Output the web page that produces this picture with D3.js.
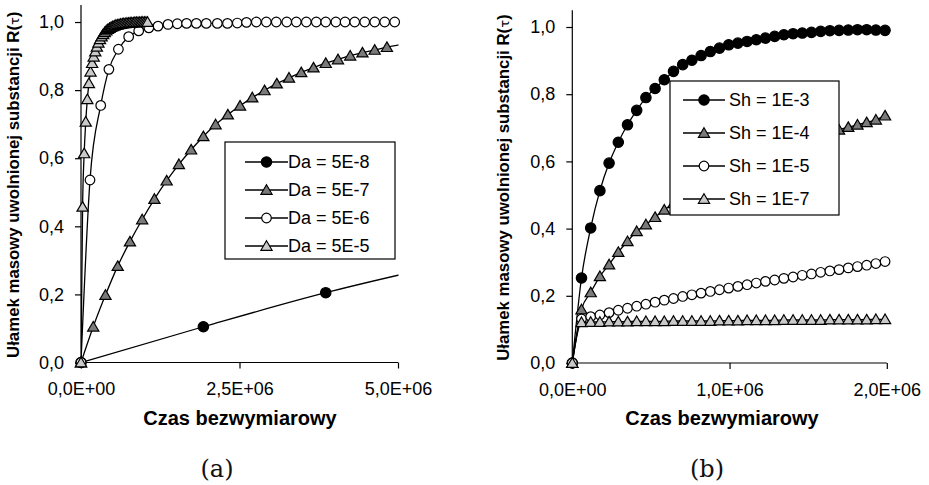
<!DOCTYPE html>
<html>
<head>
<meta charset="utf-8">
<script src="https://cdn.jsdelivr.net/npm/d3@7"></script>
<style>
  html, body { margin: 0; padding: 0; background: #fff; }
  svg { display: block; }
</style>
</head>
<body>
<svg id="fig" width="929" height="485"></svg>
<script>
// ---------- shared axis data ----------
const yTickValues = [0, 0.2, 0.4, 0.6, 0.8, 1.0];
const yTickLabels = ["0,0", "0,2", "0,4", "0,6", "0,8", "1,0"];
const yTitle = "Ułamek masowy uwolnionej substancji R(";
const xTitle = "Czas bezwymiarowy";

// ---------- panel (a): Damköhler number ----------
const xTickValuesA = [0, 2.5e6, 5e6];
const xTickLabelsA = ["0,0E+00", "2,5E+06", "5,0E+06"];
const legendA = ["Da = 5E-8", "Da = 5E-7", "Da = 5E-6", "Da = 5E-5"];

// time values in millions
const timeDa8 = [0, 1.93, 3.86, 5.79];
const fracDa8 = [0, 0.105, 0.205, 0.29];

const timeDa7 = [0, 0.193, 0.386, 0.579, 0.772, 0.965, 1.158, 1.351, 1.544, 1.737,
  1.930, 2.123, 2.316, 2.509, 2.702, 2.895, 3.088, 3.281, 3.474, 3.667, 3.860,
  4.053, 4.246, 4.439, 4.632, 4.825, 5.018];
const fracDa7 = [0, 0.105, 0.198, 0.283, 0.355, 0.420, 0.480, 0.534, 0.582, 0.625,
  0.664, 0.699, 0.728, 0.754, 0.778, 0.799, 0.819, 0.836, 0.852, 0.866, 0.879,
  0.890, 0.901, 0.910, 0.918, 0.926, 0.933];

const timeDa6 = [0, 0.142, 0.311, 0.440, 0.590, 0.752, 0.910, 1.070, 1.215, 1.372,
  1.519, 1.665, 1.819, 1.976, 2.150, 2.310, 2.465, 2.610, 2.765, 2.923, 3.080,
  3.245, 3.396, 3.554, 3.711, 3.860, 4.020, 4.165, 4.317, 4.475, 4.633, 4.790, 4.948];
const fracDa6 = [0, 0.536, 0.755, 0.861, 0.920, 0.957, 0.974, 0.983, 0.988, 0.993,
  0.995, 0.996, 0.996, 0.996, 0.996, 0.996, 0.997, 0.999, 1.0, 1.0, 1.0,
  1.0, 1.0, 1.0, 1.0, 1.0, 1.0, 1.0, 1.0, 1.0, 1.0, 1.0, 1.0];

const timeDa5 = [0, 0.025, 0.05, 0.075, 0.10, 0.125, 0.15, 0.175, 0.20, 0.225, 0.25,
  0.275, 0.30, 0.325, 0.35, 0.375, 0.40, 0.425, 0.45, 0.475, 0.50, 0.525, 0.55,
  0.575, 0.60, 0.625, 0.65, 0.675, 0.70, 0.725, 0.75, 0.775, 0.80, 0.825, 0.85,
  0.875, 0.90, 0.925, 0.95, 0.975, 1.00, 1.025, 1.05];
const fracDa5 = [0, 0.457, 0.614, 0.707, 0.773, 0.820, 0.854, 0.879, 0.898, 0.913,
  0.927, 0.939, 0.949, 0.957, 0.964, 0.970, 0.975, 0.979, 0.982, 0.985, 0.987,
  0.989, 0.991, 0.992, 0.993, 0.994, 0.995, 0.996, 0.996, 0.997, 0.997, 0.998,
  0.998, 0.998, 0.999, 0.999, 0.999, 0.999, 1.0, 1.0, 1.0, 1.0, 1.0];

// ---------- panel (b): Sherwood number ----------
const xTickValuesB = [0, 1e6, 2e6];
const xTickLabelsB = ["0,0E+00", "1,0E+06", "2,0E+06"];
const legendB = ["Sh = 1E-3", "Sh = 1E-4", "Sh = 1E-5", "Sh = 1E-7"];

const timeSh = [0, 0.0585, 0.117, 0.1755, 0.234, 0.2925, 0.351, 0.4095, 0.468, 0.5265,
  0.585, 0.6435, 0.702, 0.7605, 0.819, 0.8775, 0.936, 0.9945, 1.053, 1.1115, 1.17,
  1.2285, 1.287, 1.3455, 1.404, 1.4625, 1.521, 1.5795, 1.638, 1.6965, 1.755,
  1.8135, 1.872, 1.9305, 1.989];
const fracSh3 = [0, 0.253, 0.402, 0.513, 0.595, 0.657, 0.709, 0.752, 0.790, 0.817,
  0.843, 0.868, 0.888, 0.901, 0.915, 0.927, 0.937, 0.947, 0.952, 0.957, 0.962,
  0.967, 0.972, 0.977, 0.980, 0.982, 0.984, 0.987, 0.989, 0.990, 0.991, 0.992,
  0.992, 0.991, 0.990];
const fracSh4 = [0, 0.159, 0.210, 0.258, 0.293, 0.330, 0.362, 0.392, 0.412, 0.434,
  0.456, 0.475, 0.494, 0.511, 0.527, 0.542, 0.556, 0.570, 0.583, 0.596, 0.608,
  0.620, 0.631, 0.642, 0.652, 0.662, 0.672, 0.680, 0.687, 0.694, 0.702, 0.709,
  0.716, 0.724, 0.736];
const fracSh5 = [0, 0.131, 0.138, 0.143, 0.150, 0.157, 0.163, 0.169, 0.175, 0.181,
  0.187, 0.192, 0.198, 0.203, 0.208, 0.213, 0.218, 0.223, 0.228, 0.233, 0.238,
  0.243, 0.247, 0.252, 0.256, 0.261, 0.265, 0.270, 0.274, 0.278, 0.283, 0.287,
  0.291, 0.296, 0.302];
const fracSh7 = [0, 0.121, 0.122, 0.122, 0.123, 0.123, 0.123, 0.124, 0.124, 0.124,
  0.124, 0.125, 0.125, 0.125, 0.125, 0.125, 0.126, 0.126, 0.126, 0.127, 0.127,
  0.127, 0.127, 0.128, 0.128, 0.128, 0.128, 0.128, 0.129, 0.129, 0.129, 0.129,
  0.129, 0.130, 0.130];

// ---------- marker styles ----------
const SANS = "'Liberation Sans', Arial, sans-serif";
const DARK = "#7a7a7a", LIGHT = "#cacaca";
const styleBlackDot = { shape: "circle", fill: "#000", r: 5.2 };
const styleDarkTri = { shape: "tri", fill: DARK };
const styleWhiteDot = { shape: "circle", fill: "#fff", r: 4.8 };
const styleLightTri = { shape: "tri", fill: LIGHT };

const pts = (t, v) => t.map((ti, i) => ({ x: ti * 1e6, y: v[i] }));

const svg = d3.select("#fig");

function drawMarker(g, st, cx, cy) {
  if (st.shape === "circle") {
    g.append("circle").attr("cx", cx).attr("cy", cy).attr("r", st.r)
      .attr("fill", st.fill).attr("stroke", "#000").attr("stroke-width", 1.2);
  } else {
    g.append("path")
      .attr("d", "M0,-5.3L5.6,4.3L-5.6,4.3Z")
      .attr("transform", `translate(${cx},${cy})`)
      .attr("fill", st.fill).attr("stroke", "#000").attr("stroke-width", 1.2)
      .attr("stroke-linejoin", "miter");
  }
}

function drawPanel(cfg) {
  const x = d3.scaleLinear().domain([0, cfg.xMax]).range(cfg.xRange);
  const y = d3.scaleLinear().domain([0, 1.05]).range(cfg.yRange);
  const g = svg.append("g");

  const clipId = "clip-" + cfg.id;
  svg.append("clipPath").attr("id", clipId).append("rect")
    .attr("x", x(0)).attr("y", y(1.05) - 10)
    .attr("width", x(cfg.xMax) - x(0) + 0.5)
    .attr("height", y(0) - y(1.05) + 20);

  // axes
  const yAxis = d3.axisLeft(y).tickValues(yTickValues)
    .tickFormat((d, i) => yTickLabels[i]).tickSize(6).tickPadding(11);
  const xAxis = d3.axisBottom(x).tickValues(cfg.xTicks)
    .tickFormat((d, i) => cfg.xLabels[i]).tickSize(6).tickPadding(14);

  const gy = g.append("g").attr("transform", `translate(${x(0)},0)`).call(yAxis);
  const gx = g.append("g").attr("transform", `translate(0,${y(0)})`).call(xAxis);
  [gx, gy].forEach(a => {
    a.attr("font-family", SANS).attr("font-size", 18);
    a.select(".domain").remove();
    a.selectAll(".tick line").attr("stroke", "#000").attr("stroke-width", 1.2);
    a.selectAll(".tick text").attr("fill", "#000");
  });
  g.append("line").attr("x1", x(0)).attr("x2", x(0)).attr("y1", y(0)).attr("y2", y(1.05))
    .attr("stroke", "#000").attr("stroke-width", 1.2);
  g.append("line").attr("x1", x(0)).attr("x2", x(cfg.xMax)).attr("y1", y(0)).attr("y2", y(0))
    .attr("stroke", "#000").attr("stroke-width", 1.2);

  // series
  const line = d3.line().x(d => x(d.x)).y(d => y(d.y)).curve(d3.curveMonotoneX);
  cfg.series.forEach(s => {
    g.append("path").datum(s.data).attr("d", line)
      .attr("fill", "none").attr("stroke", "#000").attr("stroke-width", 1.3)
      .attr("clip-path", `url(#${clipId})`);
    const mg = g.append("g");
    s.data.filter(d => d.x <= cfg.xMax).forEach(d => drawMarker(mg, s.style, x(d.x), y(d.y)));
  });

  // legend
  const L = cfg.legend;
  const lg = g.append("g").attr("font-family", SANS);
  lg.append("rect").attr("x", L.x).attr("y", L.y).attr("width", L.w).attr("height", L.h)
    .attr("fill", "#fff").attr("stroke", "#000").attr("stroke-width", 1.2);
  cfg.series.forEach((s, i) => {
    const cy = L.y + L.first + i * L.step;
    lg.append("line").attr("x1", L.x + L.lx0).attr("x2", L.x + L.lx1)
      .attr("y1", cy).attr("y2", cy).attr("stroke", "#000").attr("stroke-width", 1.3);
    drawMarker(lg, s.style, L.x + (L.lx0 + L.lx1) / 2, cy);
    lg.append("text").attr("x", L.x + L.tx).attr("y", cy).attr("dy", "0.36em")
      .attr("font-size", 18).text(s.name);
  });

  // axis titles
  const yt = g.append("text")
    .attr("transform", `translate(${cfg.yTitleX},${(y(0) + y(1.05)) / 2 + 1}) rotate(-90)`)
    .attr("text-anchor", "middle").attr("dy", "0.36em")
    .attr("font-family", SANS)
    .attr("font-size", 16.8).attr("font-weight", "bold");
  yt.append("tspan").text(yTitle);
  yt.append("tspan").attr("font-weight", "normal").attr("font-size", 13)
    .attr("font-family", "'DejaVu Sans', sans-serif").text("τ");
  yt.append("tspan").text(")");

  g.append("text").attr("x", cfg.xTitleX).attr("y", 425)
    .attr("text-anchor", "middle").attr("font-family", SANS)
    .attr("font-size", 20).attr("font-weight", "bold")
    .text(xTitle);

  g.append("text").attr("x", cfg.captionX).attr("y", 477)
    .attr("text-anchor", "middle").attr("font-size", 24)
    .attr("font-family", "'DejaVu Serif', 'Liberation Serif', serif")
    .attr("fill", "#111")
    .text(cfg.caption);
}

drawPanel({
  id: "a", xMax: 5e6, xRange: [81, 398], yRange: [362.5, 5],
  xTicks: xTickValuesA, xLabels: xTickLabelsA,
  yTitleX: 13, xTitleX: 240, captionX: 217, caption: "(a)",
  series: [
    { name: legendA[0], data: pts(timeDa8, fracDa8), style: styleBlackDot },
    { name: legendA[1], data: pts(timeDa7, fracDa7), style: styleDarkTri },
    { name: legendA[2], data: pts(timeDa6, fracDa6), style: styleWhiteDot },
    { name: legendA[3], data: pts(timeDa5, fracDa5), style: styleLightTri }
  ],
  legend: { x: 225, y: 142, w: 170, h: 117, first: 20, step: 28, lx0: 20, lx1: 63, tx: 63 }
});

drawPanel({
  id: "b", xMax: 2e6, xRange: [572.3, 886.8], yRange: [363, 10.2],
  xTicks: xTickValuesB, xLabels: xTickLabelsB,
  yTitleX: 503, xTitleX: 722, captionX: 707, caption: "(b)",
  series: [
    { name: legendB[0], data: pts(timeSh, fracSh3), style: styleBlackDot },
    { name: legendB[1], data: pts(timeSh, fracSh4), style: styleDarkTri },
    { name: legendB[2], data: pts(timeSh, fracSh5), style: styleWhiteDot },
    { name: legendB[3], data: pts(timeSh, fracSh7), style: styleLightTri }
  ],
  legend: { x: 670, y: 81, w: 169, h: 134, first: 19, step: 33, lx0: 13, lx1: 55, tx: 59 }
});
</script>
</body>
</html>
